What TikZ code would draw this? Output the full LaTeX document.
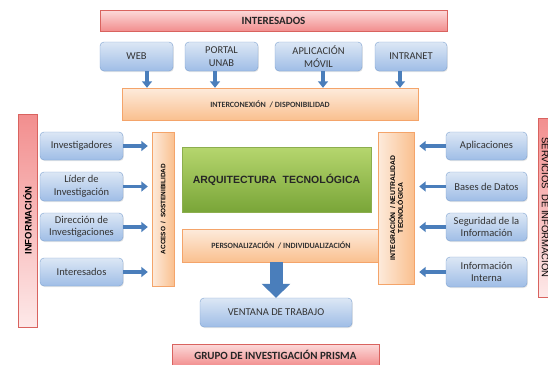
\documentclass[tikz,border=0pt]{standalone}
\usepackage{fontspec}
\setmainfont{Carlito}
\newfontfamily\arialf{Liberation Sans}
\usetikzlibrary{arrows.meta,positioning,shadows}
\definecolor{boxblue}{HTML}{DCE7F5}
\definecolor{boxblued}{HTML}{9FBDE6}
\definecolor{lineblue}{HTML}{7FA3D1}
\definecolor{peach}{HTML}{FDEBDC}
\definecolor{peachd}{HTML}{FAC08F}
\definecolor{lineorange}{HTML}{F4A46A}
\definecolor{rosel}{HTML}{FCDADA}
\definecolor{rosed}{HTML}{F28E8E}
\definecolor{linered}{HTML}{D9635F}
\definecolor{leafl}{HTML}{B6D66E}
\definecolor{leafd}{HTML}{79A538}
\definecolor{lineleaf}{HTML}{8CAE4E}
\definecolor{steel}{HTML}{4A7EBB}
\definecolor{ink}{HTML}{333333}

\begin{document}
\begin{tikzpicture}[x=1pt,y=-1pt,
  bx/.style={draw=lineblue,rounded corners=4pt,top color=boxblue,bottom color=boxblued,
    align=center,text=ink,font=\fontsize{10.5}{12.5}\selectfont,inner sep=1pt,
    drop shadow={opacity=0.2,shadow xshift=0.8pt,shadow yshift=-1pt}},
  bar/.style={draw=lineorange,top color=peach,bottom color=peachd,align=center,inner sep=0pt,
    drop shadow={opacity=0.15,shadow xshift=0.8pt,shadow yshift=-1pt}},
  vbar/.style={bar,left color=peach,right color=peachd},
  rbar/.style={draw=linered,top color=rosel,bottom color=rosed,align=center,inner sep=0pt,
    font=\fontsize{11}{13}\selectfont\bfseries,text=black!85},
  rvbar/.style={draw=linered,top color=rosed,bottom color=rosel!60,align=center,inner sep=0pt},
  hlbl/.style={font=\fontsize{8}{9}\selectfont\bfseries,text=black!80},
  vlbl/.style={font=\arialf\fontsize{6.4}{7.2}\selectfont\bfseries,text=black,rotate=90,align=center},
  ar/.style={steel,line width=3.6pt,-{Triangle[length=6.5pt,width=10pt]}},
  bigar/.style={steel,line width=13pt,-{Triangle[length=14pt,width=28pt]}}]
\useasboundingbox (0,0) rectangle (548,364);
\clip (0,0) rectangle (548,364);

% top row
\node[rbar,minimum width=347pt,minimum height=21pt] (top) at (273.5,20.5) {INTERESADOS};
\node[bx,minimum width=73pt,minimum height=29pt] (web) at (136.5,56.5) {WEB};
\node[bx,minimum width=73pt,minimum height=29pt] (portal) at (221.5,56.5) {PORTAL\\UNAB};
\node[bx,minimum width=87pt,minimum height=29pt] (movil) at (318.5,56.5) {APLICACIÓN\\MÓVIL};
\node[bx,minimum width=72pt,minimum height=29pt] (intranet) at (411,56.5) {INTRANET};
\node[bar,minimum width=296pt,minimum height=32pt] (intercon) at (270,104) {};
\node[hlbl] at (intercon) {INTERCONEXIÓN\ \ / DISPONIBILIDAD};

% left side
\node[rvbar,minimum width=19pt,minimum height=213pt] (info) at (27.5,220.5) {};
\node[font=\arialf\fontsize{9.5}{11}\selectfont\bfseries,rotate=90] at (info) {INFORMACIÓN};
\node[bx,minimum width=83pt,minimum height=28pt] (inv) at (81.5,146) {Investigadores};
\node[bx,minimum width=83pt,minimum height=29pt] (lider) at (81.5,186.5) {Líder de\\Investigación};
\node[bx,minimum width=83pt,minimum height=28pt] (dir) at (81.5,227) {Dirección de\\Investigaciones};
\node[bx,minimum width=83pt,minimum height=28pt] (intere) at (81.5,272) {Interesados};
\node[vbar,minimum width=22pt,minimum height=154pt] (acceso) at (163,209) {};
\node[vlbl] at (acceso) {ACCESO\ \ /\ \ SOSTENIBILIDAD};

% centre
\node[draw=lineleaf,top color=leafl,bottom color=leafd,minimum width=189pt,minimum height=65pt,
  font=\arialf\fontsize{10.5}{12}\selectfont\bfseries,text=black!85,
  drop shadow={opacity=0.2,shadow xshift=0.8pt,shadow yshift=-1pt}] (arq) at (276.5,179.5)
  {ARQUITECTURA\ \ TECNOLÓGICA};
\node[bar,minimum width=198pt,minimum height=33pt] (perso) at (281,245.5) {};
\node[hlbl] at (perso) {PERSONALIZACIÓN\ \ / INDIVIDUALIZACIÓN};
\node[bx,minimum width=152pt,minimum height=29pt] (ventana) at (276,312.5) {VENTANA DE TRABAJO};
\node[rbar,minimum width=207pt,minimum height=22pt] (grupo) at (275.5,355)
  {GRUPO DE INVESTIGACIÓN PRISMA};

% right side
\node[vbar,minimum width=36pt,minimum height=152pt] (integ) at (396,208) {};
\node[vlbl,font=\arialf\fontsize{6.8}{7.6}\selectfont\bfseries] at (integ) {INTEGRACIÓN\ \ / NEUTRALIDAD\\TECNOLÓGICA};
\node[bx,minimum width=81pt,minimum height=28pt] (apl) at (486.5,146) {Aplicaciones};
\node[bx,minimum width=81pt,minimum height=29pt] (bases) at (486.5,186.5) {Bases de Datos};
\node[bx,minimum width=81pt,minimum height=28pt] (segu) at (486.5,227) {Seguridad de la\\Información};
\node[bx,minimum width=81pt,minimum height=30pt] (interna) at (486.5,272) {Información\\Interna};
\node[rvbar,minimum width=22pt,minimum height=179pt] (serv) at (549,207.5) {};
\node[font=\arialf\fontsize{9.5}{11}\selectfont,rotate=-90] at ([xshift=-3pt]serv.center) {SERVICIOS\ \ DE INFORMACIÓN};

% arrows
\draw[ar] ([xshift=10.5pt]web.south) -- ([xshift=10.5pt]web.south |- intercon.north);
\draw[ar] ([xshift=-6.5pt]portal.south) -- ([xshift=-6.5pt]portal.south |- intercon.north);
\draw[ar] ([xshift=4.5pt]movil.south) -- ([xshift=4.5pt]movil.south |- intercon.north);
\draw[ar] ([xshift=-11pt]intranet.south) -- ([xshift=-11pt]intranet.south |- intercon.north);
\foreach \n in {inv,lider,dir,intere}
  \draw[ar,shorten >=4pt] (\n.east) -- (\n.east -| acceso.west);
\foreach \n in {apl,bases,segu,interna}
  \draw[ar,shorten >=5pt] (\n.west) -- (\n.west -| integ.east);
\draw[bigar] (ventana.north |- perso.south) -- (ventana.north);
\end{tikzpicture}
\end{document}
